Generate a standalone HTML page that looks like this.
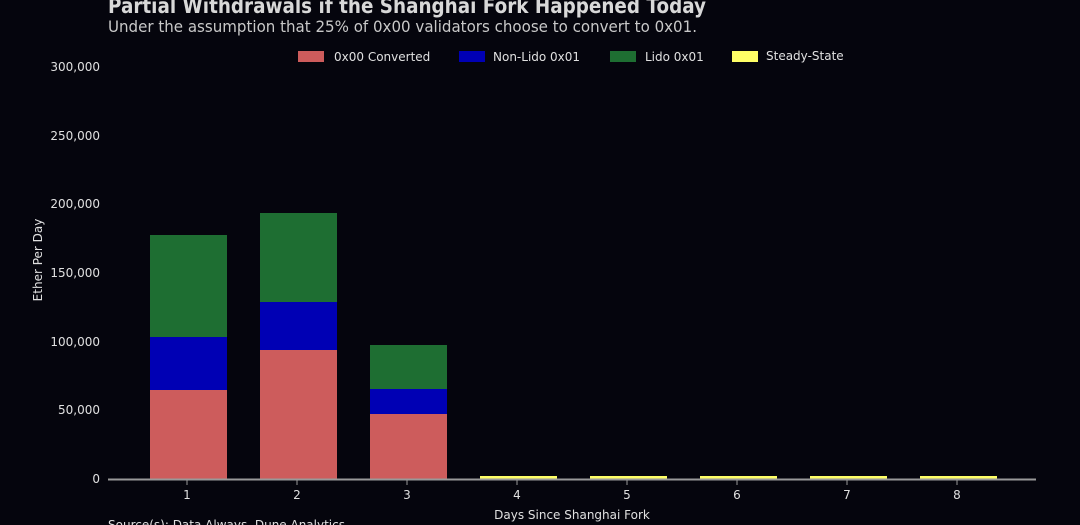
<!DOCTYPE html>
<html><head><style>
html,body{margin:0;padding:0;background:#05050d;}
body{width:1080px;height:525px;overflow:hidden;position:relative;font-family:"DejaVu Sans","Liberation Sans",sans-serif;}
</style></head><body>
<svg width="1080" height="525" xmlns="http://www.w3.org/2000/svg" style="position:absolute;left:0;top:0">
<rect width="1080" height="525" fill="#05050d"/>
<text x="108" y="13" fill="#d8d8d8" font-size="21" font-weight="bold" font-family="DejaVu Sans, sans-serif" textLength="598" lengthAdjust="spacingAndGlyphs">Partial Withdrawals if the Shanghai Fork Happened Today</text>
<text x="108" y="32" fill="#c8c8c8" font-size="16" font-family="DejaVu Sans, sans-serif" textLength="589" lengthAdjust="spacingAndGlyphs">Under the assumption that 25% of 0x00 validators choose to convert to 0x01.</text>
<g font-size="12" fill="#e0e0e0">
<rect x="298" y="51" width="26" height="11" fill="#cd5c5c"/><text x="334" y="61">0x00 Converted</text>
<rect x="459" y="51" width="26" height="11" fill="#0000b4"/><text x="493" y="61">Non-Lido 0x01</text>
<rect x="610" y="51" width="26" height="11" fill="#1e6e32"/><text x="645" y="61">Lido 0x01</text>
<rect x="732" y="51" width="26" height="11" fill="#ffff66"/><text x="766" y="60">Steady-State</text>
</g>
<g font-size="12" fill="#e0e0e0" text-anchor="end">
<text x="100" y="71">300,000</text>
<text x="100" y="140">250,000</text>
<text x="100" y="208">200,000</text>
<text x="100" y="277">150,000</text>
<text x="100" y="346">100,000</text>
<text x="100" y="414">50,000</text>
<text x="100" y="483">0</text>
</g>
<text transform="translate(42,260) rotate(-90)" fill="#e0e0e0" font-size="12" text-anchor="middle">Ether Per Day</text>
<rect x="150" y="390" width="77" height="89" fill="#cd5c5c"/>
<rect x="150" y="337" width="77" height="53" fill="#0000b4"/>
<rect x="150" y="235" width="77" height="102" fill="#1e6e32"/>
<rect x="260" y="350" width="77" height="129" fill="#cd5c5c"/>
<rect x="260" y="302" width="77" height="48" fill="#0000b4"/>
<rect x="260" y="213" width="77" height="89" fill="#1e6e32"/>
<rect x="370" y="414" width="77" height="65" fill="#cd5c5c"/>
<rect x="370" y="389" width="77" height="25" fill="#0000b4"/>
<rect x="370" y="345" width="77" height="44" fill="#1e6e32"/>
<g fill="#ffff66">
<rect x="480" y="476" width="77" height="3"/>
<rect x="590" y="476" width="77" height="3"/>
<rect x="700" y="476" width="77" height="3"/>
<rect x="810" y="476" width="77" height="3"/>
<rect x="920" y="476" width="77" height="3"/>
</g>
<line x1="108" y1="479.5" x2="1036" y2="479.5" stroke="#999" stroke-width="2"/>
<g stroke="#999" stroke-width="1">
<line x1="187" y1="480" x2="187" y2="485"/><line x1="297" y1="480" x2="297" y2="485"/>
<line x1="407" y1="480" x2="407" y2="485"/><line x1="517" y1="480" x2="517" y2="485"/>
<line x1="627" y1="480" x2="627" y2="485"/><line x1="737" y1="480" x2="737" y2="485"/>
<line x1="847" y1="480" x2="847" y2="485"/><line x1="957" y1="480" x2="957" y2="485"/>
</g>
<g font-size="12" fill="#e0e0e0" text-anchor="middle">
<text x="187" y="499">1</text><text x="297" y="499">2</text><text x="407" y="499">3</text><text x="517" y="499">4</text>
<text x="627" y="499">5</text><text x="737" y="499">6</text><text x="847" y="499">7</text><text x="957" y="499">8</text>
<text x="572" y="519">Days Since Shanghai Fork</text>
</g>
<text x="108" y="529" font-size="12" fill="#e0e0e0">Source(s): Data Always, Dune Analytics</text>
</svg>
</body></html>
